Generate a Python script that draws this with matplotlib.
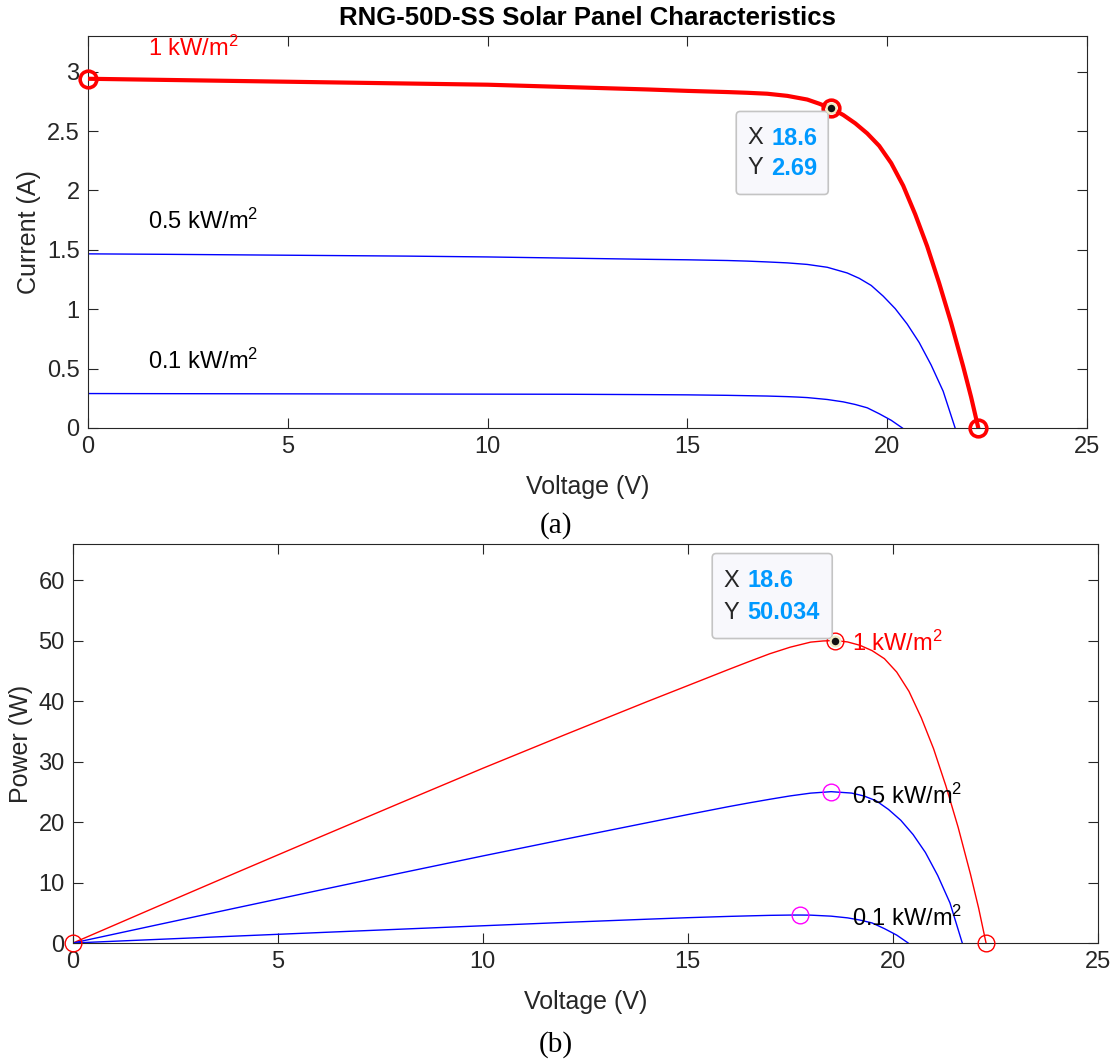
"""
plot.py

I-V and P-V characteristics of the RNG-50D-SS solar panel at
three irradiance levels, with MATLAB-style data tips on the 1 kW/m^2 curve.
"""

import matplotlib
matplotlib.use("Agg")
import matplotlib.pyplot as plt
import matplotlib.transforms as mtransforms
import numpy as np
from matplotlib.patches import FancyBboxPatch
from matplotlib.ticker import FormatStrFormatter

plt.rcParams["font.family"] = ["Liberation Sans", "DejaVu Sans"]
plt.rcParams["mathtext.fontset"] = "custom"
plt.rcParams["mathtext.rm"] = "Liberation Sans"
plt.rcParams["mathtext.default"] = "regular"


# Values (voltage in V, current in A, power in W).
V_1000 = [0, 2, 4, 6, 8, 10, 12, 14, 15, 16, 16.5, 17, 17.5, 18, 18.3, 18.6,
          18.9, 19.2, 19.5, 19.8, 20.1, 20.4, 20.7, 21.0, 21.3, 21.6, 21.9,
          22.1, 22.28]
I_1000 = [2.94, 2.93, 2.92, 2.91, 2.90, 2.89, 2.87, 2.85, 2.838, 2.828, 2.822,
          2.814, 2.796, 2.765, 2.73, 2.69, 2.635, 2.565, 2.48, 2.375, 2.23,
          2.04, 1.80, 1.53, 1.22, 0.885, 0.52, 0.26, 0.0]
P_1000 = [0, 5.86, 11.68, 17.46, 23.2, 28.9, 34.44, 39.9, 42.57, 45.25, 46.56,
          47.84, 48.93, 49.77, 49.96, 50.034, 49.80, 49.25, 48.36, 47.03, 44.82,
          41.62, 37.26, 32.13, 25.99, 19.12, 11.39, 5.75, 0]

V_500 = [0, 2, 4, 6, 8, 10, 12, 14, 15, 16, 16.5, 17, 17.5, 18, 18.5, 19,
         19.3, 19.6, 19.9, 20.2, 20.5, 20.8, 21.1, 21.4, 21.7]
I_500 = [1.466, 1.462, 1.457, 1.452, 1.447, 1.44, 1.43, 1.42, 1.416, 1.41,
         1.405, 1.398, 1.39, 1.377, 1.353, 1.305, 1.26, 1.2, 1.11, 1.005,
         0.875, 0.72, 0.53, 0.31, 0.0]
P_500 = [0, 2.924, 5.828, 8.712, 11.576, 14.4, 17.16, 19.88, 21.24, 22.56,
         23.18, 23.77, 24.33, 24.79, 25.03, 24.80, 24.32, 23.52, 22.09, 20.30,
         17.94, 14.98, 11.18, 6.63, 0]

V_100 = [0, 2, 4, 6, 8, 10, 12, 14, 15, 16, 16.5, 17, 17.5, 17.75, 18, 18.5,
         18.9, 19.2, 19.5, 19.8, 20.1, 20.38]
I_100 = [0.290, 0.289, 0.288, 0.287, 0.286, 0.285, 0.284, 0.281, 0.279,
         0.275, 0.272, 0.269, 0.264, 0.2605, 0.256, 0.24, 0.22, 0.198, 0.17,
         0.12, 0.065, 0.0]
P_100 = [0, 0.578, 1.152, 1.722, 2.288, 2.85, 3.408, 3.934, 4.185, 4.40,
         4.488, 4.573, 4.62, 4.624, 4.608, 4.44, 4.158, 3.80, 3.315, 2.376,
         1.307, 0]

LABELS = ["1 kW/m$^2$", "0.5 kW/m$^2$", "0.1 kW/m$^2$"]

AXIS_GRAY = "#262626"
TIP_BLUE = "#0099ff"
W, H = 1112, 1064
FS_TICK = 17
FS_LABEL = 18
FS_TEXT = 17


def style_axes(ax):
    for spine in ax.spines.values():
        spine.set_color(AXIS_GRAY)
        spine.set_linewidth(0.8)
    ax.tick_params(direction="in", length=7, width=0.8, top=True, right=True,
                   colors=AXIS_GRAY, labelsize=FS_TICK, pad=6)
    ax.yaxis.set_major_formatter(FormatStrFormatter("%g"))
    ax.set_xlim(0, 25)
    ax.set_xticks(range(0, 26, 5))
    ax.set_xlabel("Voltage (V)", fontsize=FS_LABEL, color=AXIS_GRAY,
                  labelpad=12)


def data_tip(fig, ax, x, y, box, label_dx, value_dx, line_dy, values):
    """Draw a MATLAB-like data tip; offsets are given in pixels."""
    dpi = fig.dpi
    base = fig.dpi_scale_trans + mtransforms.ScaledTranslation(x, y, ax.transData)
    x0, y0, bw, bh = box
    ax.add_patch(FancyBboxPatch(
        (x0 / dpi, y0 / dpi), bw / dpi, bh / dpi,
        boxstyle="round,pad=0,rounding_size=0.04", transform=base,
        facecolor="#f8f8fc", edgecolor="#c4c4c4", linewidth=1.2,
        zorder=6, clip_on=False,
    ))
    for name, val, dy in zip(["X", "Y"], values, line_dy):
        ax.text(label_dx / dpi, dy / dpi, name, transform=base,
                fontsize=FS_TEXT, color=AXIS_GRAY, va="center", ha="left",
                zorder=7)
        ax.text(value_dx / dpi, dy / dpi, val, transform=base,
                fontsize=FS_TEXT, fontweight="bold", color=TIP_BLUE,
                va="center", ha="left", zorder=7)
    ax.plot(x, y, "o", ms=7, mfc="#111111", mec="#f2ebc4", mew=1.6,
            zorder=8, clip_on=False)


def main():
    fig = plt.figure(figsize=(W / 100, H / 100), dpi=100)

    # ---- (a) current vs voltage ----
    ax1 = fig.add_axes([88 / W, 1 - 428 / H, (1087 - 88) / W, (428 - 36) / H])
    ax1.plot(V_1000, I_1000, color="red", linewidth=3, zorder=3)
    ax1.plot(V_500, I_500, color="blue", linewidth=1)
    ax1.plot(V_100, I_100, color="blue", linewidth=1)

    mpp = int(np.argmax(P_1000))
    key = [0, mpp, len(V_1000) - 1]
    ax1.plot([V_1000[k] for k in key], [I_1000[k] for k in key], "o",
             ms=12, mfc="none", mec="red", mew=2.6, zorder=4, clip_on=False)

    ax1.text(1.5, 3.2, LABELS[0], color="red", fontsize=FS_TEXT, va="center")
    ax1.text(1.5, 1.74, LABELS[1], color="black", fontsize=FS_TEXT, va="center")
    ax1.text(1.5, 0.56, LABELS[2], color="black", fontsize=FS_TEXT, va="center")

    style_axes(ax1)
    ax1.set_ylim(0, 3.3)
    ax1.set_yticks(np.arange(0, 3.01, 0.5))
    ax1.set_ylabel("Current (A)", fontsize=FS_LABEL, color=AXIS_GRAY)
    ax1.set_title("RNG-50D-SS Solar Panel Characteristics", fontsize=18.5,
                  fontweight="bold", color="black", pad=8)

    data_tip(fig, ax1, V_1000[mpp], I_1000[mpp], (-95, -86, 92, 83),
             -84, -60, (-30, -60), ["18.6", "2.69"])

    # ---- (b) power vs voltage ----
    ax2 = fig.add_axes([73 / W, 1 - 943 / H, (1097.5 - 73) / W, (943 - 544) / H])
    ax2.plot(V_1000, P_1000, color="red", linewidth=1)
    ax2.plot(V_500, P_500, color="blue", linewidth=1)
    ax2.plot(V_100, P_100, color="blue", linewidth=1)

    ax2.plot([V_1000[k] for k in key], [P_1000[k] for k in key], "o",
             ms=12, mfc="none", mec="red", mew=1, zorder=4, clip_on=False)
    m500 = int(np.argmax(P_500))
    m100 = int(np.argmax(P_100))
    ax2.plot([V_500[m500], V_100[m100]], [P_500[m500], P_100[m100]], "o",
             ms=12, mfc="none", mec="#ff00ff", mew=1, zorder=4)

    ax2.text(19.0, 49.5, LABELS[0], color="red", fontsize=FS_TEXT, va="center")
    ax2.text(19.0, 24.2, LABELS[1], color="black", fontsize=FS_TEXT, va="center")
    ax2.text(19.0, 4.1, LABELS[2], color="black", fontsize=FS_TEXT, va="center")

    style_axes(ax2)
    ax2.set_ylim(0, 66)
    ax2.set_yticks(range(0, 61, 10))
    ax2.set_ylabel("Power (W)", fontsize=FS_LABEL, color=AXIS_GRAY)

    data_tip(fig, ax2, V_1000[mpp], P_1000[mpp], (-123, 2, 120, 85),
             -112, -88, (60, 28), ["18.6", "50.034"])

    fig.text(556 / W, 1 - 526 / H, "(a)", family="Liberation Serif",
             fontsize=21, ha="center", va="center")
    fig.text(556 / W, 1 - 1045 / H, "(b)", family="Liberation Serif",
             fontsize=21, ha="center", va="center")

    fig.savefig("out.png", dpi=100)


if __name__ == "__main__":
    main()
